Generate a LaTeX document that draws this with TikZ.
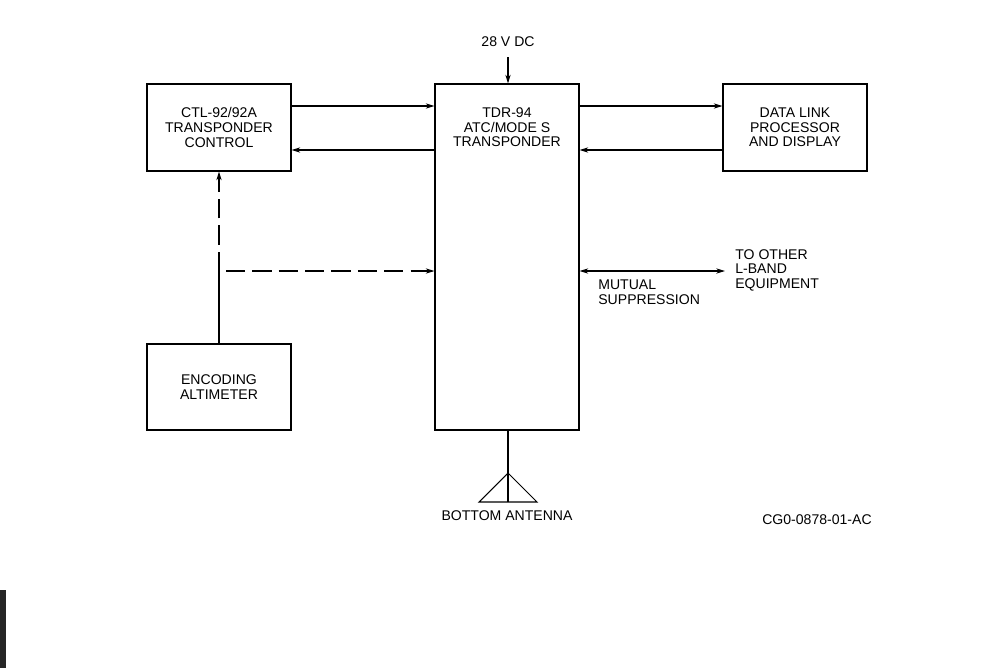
\documentclass[tikz,border=0pt]{standalone}
\usepackage{fontspec}
\setmainfont{Liberation Sans}
\usetikzlibrary{arrows.meta}

\tikzset{
  unit/.style={draw, line width=0.6pt, minimum width=2.88cm, align=center, inner sep=0pt},
  txt/.style={font=\fontsize{8}{8.3}\selectfont, align=left, inner sep=0pt},
  sig/.style={line width=0.6pt, -{Stealth[length=5pt,width=3pt]}},
  dsig/.style={sig, dash pattern=on 11pt off 4pt},
}

\begin{document}
\begin{tikzpicture}
\useasboundingbox (0,0) rectangle (20.04,-13.36);
\fill[black!85] (0,-11.8) rectangle (0.12,-13.36);

% Blocks
\node[unit, minimum height=1.74cm, txt, align=center] (ctl) at (4.38,-2.55) {CTL-92/92A\\TRANSPONDER\\CONTROL};
\node[unit, minimum height=6.92cm] (tdr) at (10.14,-5.14) {};
\node[txt, align=center] (tdrlbl) at (10.14,-2.55) {TDR-94\\ATC/MODE S\\TRANSPONDER};
\node[unit, minimum height=1.74cm, txt, align=center] (dlp) at (15.9,-2.55) {DATA LINK\\PROCESSOR\\AND DISPLAY};
\node[unit, minimum height=1.72cm, txt, align=center] (enc) at (4.38,-7.74) {ENCODING\\ALTIMETER};

% Power
\node[txt] (pwr) at (10.16,-0.84) {28 V DC};
\draw[sig] (10.16,-1.14) -- (tdr.north -| 10.16,0);

% Control <-> transponder
\draw[sig] (ctl.east |- 0,-2.12) -- (tdr.west |- 0,-2.12);
\draw[sig] (tdr.west |- 0,-3.0) -- (ctl.east |- 0,-3.0);

% Transponder <-> data link
\draw[sig] (tdr.east |- 0,-2.12) -- (dlp.west |- 0,-2.12);
\draw[sig] (dlp.west |- 0,-3.0) -- (tdr.east |- 0,-3.0);

% Altimeter
\coordinate (jn) at (4.38,-5.42);
\draw[line width=0.6pt] (enc.north) -- (jn);
\draw[dsig] (jn) -- (ctl.south);
\draw[dsig] (4.52,-5.42) -- (tdr.west |- jn);

% Mutual suppression
\coordinate (lband) at (14.5,-5.42);
\draw[line width=0.6pt, {Stealth[length=5pt,width=3pt]}-{Stealth[length=5pt,width=3pt]}] (tdr.east |- lband) -- (lband);
\node[txt, anchor=west] (other) at (14.7,-5.40) {TO OTHER\\L-BAND\\EQUIPMENT};
\node[txt, anchor=west] (mutual) at (11.96,-5.84) {MUTUAL\\SUPPRESSION};

% Antenna
\coordinate (apex) at (10.16,-9.46);
\coordinate (base) at (10.16,-10.04);
\draw[line width=0.6pt] (tdr.south -| base) -- (base);
\draw[line width=0.6pt] (9.58,-10.04) -- (apex) -- (10.74,-10.04) -- cycle;
\node[txt] (ant) at (10.14,-10.32) {BOTTOM ANTENNA};

\node[txt] (fig) at (16.34,-10.4) {CG0-0878-01-AC};
\end{tikzpicture}
\end{document}
